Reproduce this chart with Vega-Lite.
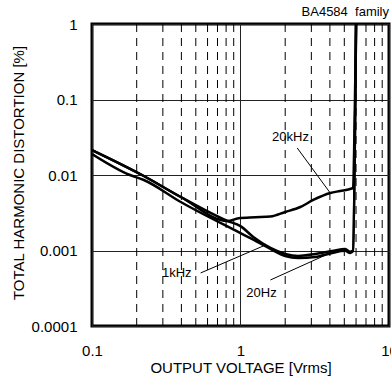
{
  "$schema": "https://vega.github.io/schema/vega-lite/v6.json",
  "width": 297,
  "height": 302,
  "autosize": {"type": "none"},
  "padding": {"left": 92, "top": 24, "right": 2, "bottom": 52},
  "background": "white",
  "title": {"text": "BA4584\u00a0 family", "anchor": "end", "frame": "group", "fontSize": 13, "fontWeight": "normal", "font": "Liberation Sans", "color": "black", "baseline": "alphabetic", "offset": 0, "dy": 12},
  "config": {
    "view": {"stroke": "black", "strokeWidth": 3},
    "axis": {"labelFont": "Liberation Sans", "titleFont": "Liberation Sans", "labelFontSize": 15, "titleFontSize": 15, "titleFontWeight": "normal", "labelColor": "black", "titleColor": "black", "domain": false, "ticks": false, "gridColor": "#222", "gridWidth": 1, "gridOpacity": 1}
  },
  "datasets": {
    "curves": [
      {"f": "20kHz", "v": 0.1, "thd": 0.0214},
      {"f": "20kHz", "v": 0.2234, "thd": 0.0097},
      {"f": "20kHz", "v": 0.396, "thd": 0.00511},
      {"f": "20kHz", "v": 0.818, "thd": 0.00246},
      {"f": "20kHz", "v": 0.97, "thd": 0.00267},
      {"f": "20kHz", "v": 1.26, "thd": 0.00275},
      {"f": "20kHz", "v": 1.59, "thd": 0.00282},
      {"f": "20kHz", "v": 2.0, "thd": 0.00324},
      {"f": "20kHz", "v": 2.53, "thd": 0.00377},
      {"f": "20kHz", "v": 3.09, "thd": 0.00467},
      {"f": "20kHz", "v": 4.02, "thd": 0.00578},
      {"f": "20kHz", "v": 4.69, "thd": 0.00614},
      {"f": "20kHz", "v": 5.47, "thd": 0.00653},
      {"f": "20kHz", "v": 5.69, "thd": 0.0067},
      {"f": "20kHz", "v": 6.0, "thd": 1},
      {"f": "1kHz", "v": 0.1, "thd": 0.0214},
      {"f": "1kHz", "v": 0.2234, "thd": 0.0097},
      {"f": "1kHz", "v": 0.396, "thd": 0.00511},
      {"f": "1kHz", "v": 0.818, "thd": 0.00246},
      {"f": "1kHz", "v": 1.0, "thd": 0.0021},
      {"f": "1kHz", "v": 1.22, "thd": 0.00151},
      {"f": "1kHz", "v": 1.59, "thd": 0.00108},
      {"f": "1kHz", "v": 2.0, "thd": 0.0009},
      {"f": "1kHz", "v": 2.45, "thd": 0.000845},
      {"f": "1kHz", "v": 3.19, "thd": 0.0009},
      {"f": "1kHz", "v": 4.14, "thd": 0.000985},
      {"f": "1kHz", "v": 5.07, "thd": 0.00105},
      {"f": "1kHz", "v": 5.47, "thd": 0.00096},
      {"f": "1kHz", "v": 5.72, "thd": 0.001},
      {"f": "1kHz", "v": 6.0, "thd": 1},
      {"f": "20Hz", "v": 0.1, "thd": 0.019},
      {"f": "20Hz", "v": 0.18, "thd": 0.01},
      {"f": "20Hz", "v": 0.2234, "thd": 0.00859},
      {"f": "20Hz", "v": 0.396, "thd": 0.00439},
      {"f": "20Hz", "v": 1.0, "thd": 0.0017},
      {"f": "20Hz", "v": 1.22, "thd": 0.00139},
      {"f": "20Hz", "v": 1.59, "thd": 0.00105},
      {"f": "20Hz", "v": 2.0, "thd": 0.000845},
      {"f": "20Hz", "v": 2.45, "thd": 0.000796},
      {"f": "20Hz", "v": 3.19, "thd": 0.00082},
      {"f": "20Hz", "v": 4.14, "thd": 0.000927},
      {"f": "20Hz", "v": 5.07, "thd": 0.00099},
      {"f": "20Hz", "v": 5.47, "thd": 0.00093},
      {"f": "20Hz", "v": 5.72, "thd": 0.00098},
      {"f": "20Hz", "v": 6.0, "thd": 1}
    ],
    "grid": [
      {"v": 0.2}, {"v": 0.3}, {"v": 0.4}, {"v": 0.5}, {"v": 0.6}, {"v": 0.7}, {"v": 0.8}, {"v": 0.9},
      {"v": 2}, {"v": 3}, {"v": 4}, {"v": 5}, {"v": 6}, {"v": 7}, {"v": 8}, {"v": 9}
    ],
    "leaders": [
      {"id": "k20", "v": 2.41, "thd": 0.0228},
      {"id": "k20", "v": 4.02, "thd": 0.00578},
      {"id": "k1", "v": 0.539, "thd": 0.000504},
      {"id": "k1", "v": 1.427, "thd": 0.00115},
      {"id": "h20", "v": 1.59, "thd": 0.000407},
      {"id": "h20", "v": 4.02, "thd": 0.000927}
    ],
    "labels": [
      {"label": "20kHz", "v": 2.17, "thd": 0.0319},
      {"label": "1kHz", "v": 0.372, "thd": 0.000504},
      {"label": "20Hz", "v": 1.384, "thd": 0.000274}
    ]
  },
  "encoding": {
    "x": {"field": "v", "type": "quantitative", "title": "OUTPUT VOLTAGE [Vrms]",
      "scale": {"type": "log", "domain": [0.1, 10]},
      "axis": {"values": [0.1, 1, 10], "format": "~g", "labelPadding": 17, "labelFlush": false, "grid": true, "titleBaseline": "alphabetic", "titleY": 46}}
  },
  "layer": [
    {
      "data": {"name": "grid"},
      "mark": {"type": "rule", "color": "black", "strokeWidth": 1, "strokeDash": [8, 6]},
      "encoding": {}
    },
    {
      "data": {"name": "labels"},
      "mark": {"type": "text", "font": "Liberation Sans", "fontSize": 13, "color": "black", "align": "center", "baseline": "middle"},
      "encoding": {
        "y": {"field": "thd", "type": "quantitative", "title": "TOTAL HARMONIC DISTORTION [%]",
          "scale": {"type": "log", "domain": [0.0001, 1]},
          "axis": {"values": [0.0001, 0.001, 0.01, 0.1, 1], "format": "~g", "labelPadding": 15, "labelFlush": false, "grid": true, "titleBaseline": "alphabetic", "titleX": -69, "titleY": 148.5, "titleAlign": "center", "titleAngle": -90}},
        "text": {"field": "label"}
      }
    },
    {
      "data": {"name": "leaders"},
      "mark": {"type": "line", "color": "black", "strokeWidth": 1},
      "encoding": {
        "y": {"field": "thd", "type": "quantitative", "title": "TOTAL HARMONIC DISTORTION [%]",
          "scale": {"type": "log", "domain": [0.0001, 1]},
          "axis": {"values": [0.0001, 0.001, 0.01, 0.1, 1], "format": "~g", "labelPadding": 15, "labelFlush": false, "grid": true, "titleBaseline": "alphabetic", "titleX": -69, "titleY": 148.5, "titleAlign": "center", "titleAngle": -90}},
        "detail": {"field": "id"}
      }
    },
    {
      "data": {"name": "curves"},
      "mark": {"type": "line", "color": "black", "strokeWidth": 2.5, "interpolate": "monotone", "clip": true},
      "encoding": {
        "y": {"field": "thd", "type": "quantitative", "title": "TOTAL HARMONIC DISTORTION [%]",
          "scale": {"type": "log", "domain": [0.0001, 1]},
          "axis": {"values": [0.0001, 0.001, 0.01, 0.1, 1], "format": "~g", "labelPadding": 15, "labelFlush": false, "grid": true, "titleBaseline": "alphabetic", "titleX": -69, "titleY": 148.5, "titleAlign": "center", "titleAngle": -90}},
        "detail": {"field": "f"}
      }
    }
  ]
}
